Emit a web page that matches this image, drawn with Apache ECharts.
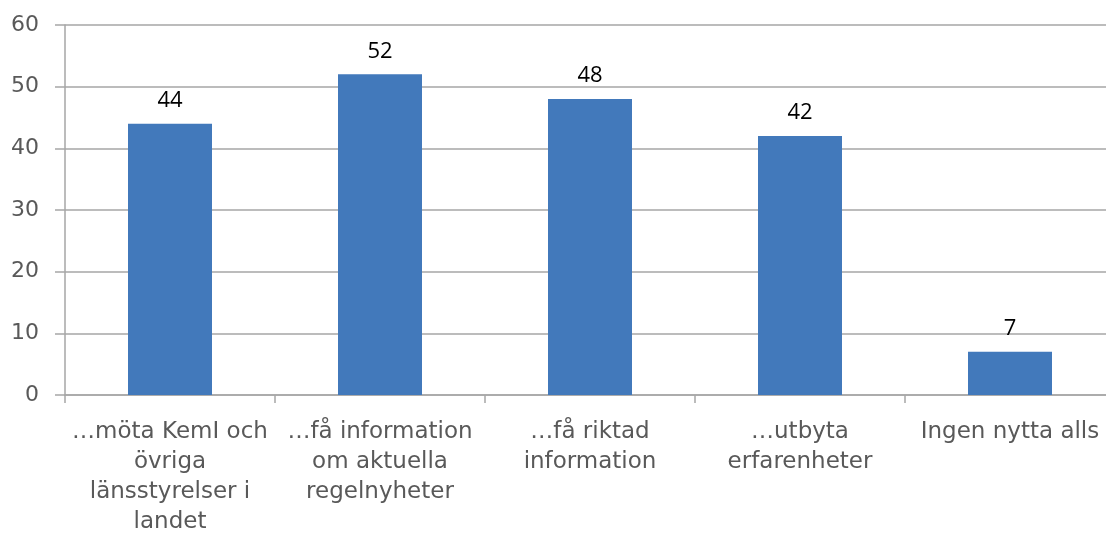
<!DOCTYPE html>
<html>
<head>
<meta charset="utf-8">
<script src="https://cdn.jsdelivr.net/npm/echarts@6/dist/echarts.min.js"></script>
<style>
  html, body { margin: 0; padding: 0; background: #fff; }
  #chart { width: 1106px; height: 538px; }
</style>
</head>
<body>
<div id="chart"></div>
<script>
// kategorier (radbrytningar som i originalet)
const categories = [
  '…möta KemI och\növriga\nlänsstyrelser i\nlandet',
  '…få information\nom aktuella\nregelnyheter',
  '…få riktad\ninformation',
  '…utbyta\nerfarenheter',
  'Ingen nytta alls'
];
const values = [44, 52, 48, 42, 7];
const yTicks = [0, 10, 20, 30, 40, 50, 60];

const myChart = echarts.init(document.getElementById('chart'));

const option = {
  animation: false,
  grid: {
    left: 65,
    width: 1050,
    top: 25,
    bottom: 143,
    outerBoundsMode: 'none',
    containLabel: false
  },
  xAxis: {
    type: 'category',
    data: categories,
    axisLine: { lineStyle: { color: '#a6a6a6', width: 1.5 } },
    axisTick: { show: true, length: 8, lineStyle: { color: '#a6a6a6', width: 1.5 } },
    axisLabel: {
      interval: 0,
      margin: 22,
      color: '#595959',
      fontFamily: 'DejaVu Sans',
      fontSize: 23,
      lineHeight: 30
    }
  },
  yAxis: {
    type: 'value',
    min: yTicks[0],
    max: yTicks[yTicks.length - 1],
    interval: 10,
    axisLine: { show: true, lineStyle: { color: '#a6a6a6', width: 1.5 } },
    axisTick: { show: true, length: 10, lineStyle: { color: '#a6a6a6', width: 1.5 } },
    axisLabel: {
      margin: 26,
      color: '#595959',
      fontFamily: 'DejaVu Sans',
      fontSize: 22
    },
    splitLine: { lineStyle: { color: '#a6a6a6', width: 1.5 } }
  },
  series: [
    {
      type: 'bar',
      data: values,
      barWidth: 84,
      itemStyle: { color: '#4279bb' },
      label: {
        show: true,
        position: 'top',
        distance: 12,
        color: '#000',
        fontFamily: 'Open Sans',
        fontSize: 22
      }
    }
  ]
};

myChart.setOption(option);
</script>
</body>
</html>
